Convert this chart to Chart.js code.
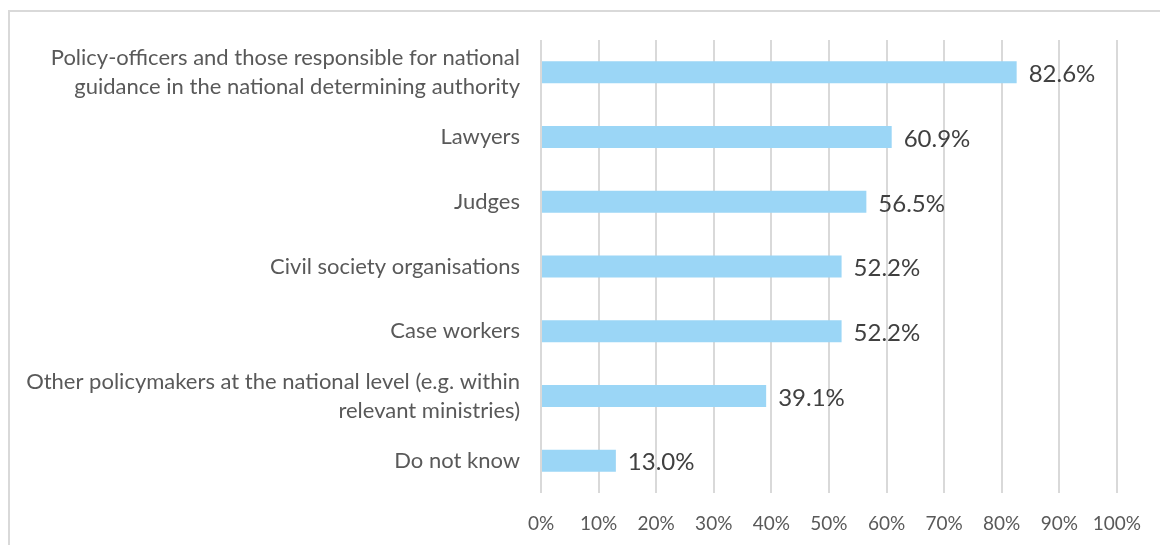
<!DOCTYPE html>
<html>
<head>
<meta charset="utf-8">
<script src="https://cdn.jsdelivr.net/npm/chart.js@4"></script>
<style>
  html, body { margin: 0; padding: 0; background: #fff; overflow: hidden; }
  #wrap { position: relative; width: 1160px; height: 545px; }
  #frame { position: absolute; left: 8px; top: 10px; width: 1200px; height: 600px;
           border-top: 2px solid #d9d9d9; border-left: 2px solid #d9d9d9; }
  canvas { position: absolute; left: 0; top: 0; }
</style>
</head>
<body>
<div id="wrap">
  <div id="frame"></div>
  <canvas id="chart" width="1160" height="545"></canvas>
</div>
<script>
const categories = [
  ['Policy-officers and those responsible for national', 'guidance in the national determining authority'],
  'Lawyers',
  'Judges',
  'Civil society organisations',
  'Case workers',
  ['Other policymakers at the national level (e.g. within', 'relevant ministries)'],
  'Do not know'
];
const shares = [0.826, 0.609, 0.565, 0.522, 0.522, 0.391, 0.130];
const xTicks = [0, 0.1, 0.2, 0.3, 0.4, 0.5, 0.6, 0.7, 0.8, 0.9, 1.0];

const valueLabels = {
  id: 'valueLabels',
  afterDatasetsDraw(chart) {
    const ctx = chart.ctx;
    const meta = chart.getDatasetMeta(0);
    ctx.save();
    ctx.font = '24px Lato';
    ctx.fillStyle = '#404040';
    ctx.textAlign = 'left';
    ctx.textBaseline = 'middle';
    meta.data.forEach((bar, i) => {
      ctx.fillText((shares[i] * 100).toFixed(1) + '%', bar.x + 12, bar.y + 2);
    });
    ctx.restore();
  }
};

new Chart(document.getElementById('chart'), {
  type: 'bar',
  data: {
    labels: categories,
    datasets: [{
      data: shares,
      backgroundColor: 'rgb(155, 214, 246)',
      barPercentage: 0.34,
      categoryPercentage: 1.0
    }]
  },
  options: {
    indexAxis: 'y',
    responsive: false,
    animation: false,
    layout: { padding: { top: 40, right: 43, bottom: 0, left: 0 } },
    plugins: { legend: { display: false }, tooltip: { enabled: false } },
    scales: {
      x: {
        min: 0,
        max: 1,
        afterBuildTicks: (scale) => { scale.ticks = xTicks.map(v => ({ value: v })); },
        afterFit: (scale) => { scale.height = 52; },
        grid: { color: '#d9d9d9', lineWidth: 2, drawTicks: false },
        border: { display: false },
        ticks: {
          padding: 19,
          color: '#595959',
          font: { family: 'Lato', size: 19 },
          callback: (v) => Math.round(v * 100) + '%'
        }
      },
      y: {
        afterFit: (scale) => { scale.width = 541; },
        grid: { display: false, drawTicks: false },
        border: { display: false },
        ticks: {
          padding: 21,
          color: '#595959',
          font: { family: 'Lato', size: 22, lineHeight: 1.32 }
        }
      }
    }
  },
  plugins: [valueLabels]
});
</script>
</body>
</html>
